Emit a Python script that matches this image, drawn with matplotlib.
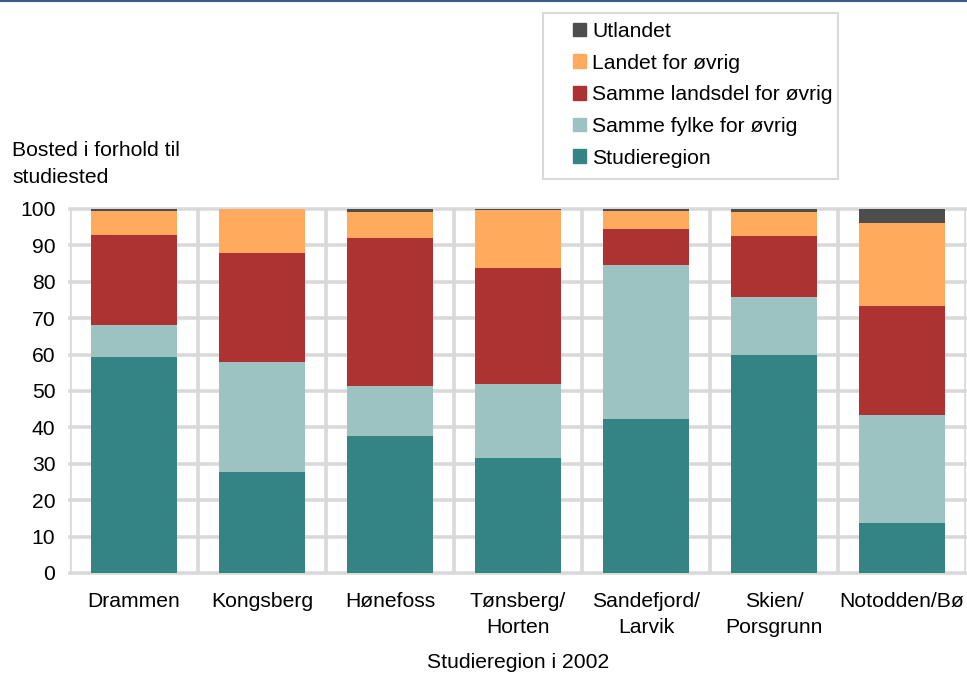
import matplotlib
matplotlib.use("Agg")
from matplotlib import pyplot as plt
from matplotlib.patches import Patch, Rectangle
import numpy as np

plt.rcParams['font.family'] = ['Liberation Sans', 'DejaVu Sans']

# data (andel i prosent)
regions = ['Drammen', 'Kongsberg', 'Hønefoss', 'Tønsberg/\nHorten',
           'Sandefjord/\nLarvik', 'Skien/\nPorsgrunn', 'Notodden/Bø']
studieregion = [59.3, 27.7, 37.7, 31.6, 42.4, 59.9, 13.8]
samme_fylke = [8.9, 30.3, 13.8, 20.4, 42.3, 15.9, 29.7]
samme_landsdel = [24.6, 29.9, 40.5, 31.9, 9.8, 16.9, 29.8]
landet = [6.6, 12.1, 7.3, 15.7, 5.0, 6.6, 22.9]
utlandet = [0.6, 0.0, 0.7, 0.4, 0.5, 0.7, 3.8]

series = [
    ('Studieregion', studieregion, '#348484'),
    ('Samme fylke for øvrig', samme_fylke, '#9CC2C2'),
    ('Samme landsdel for øvrig', samme_landsdel, '#AD3232'),
    ('Landet for øvrig', landet, '#FFAA5C'),
    ('Utlandet', utlandet, '#4D4D4D'),
]

FS = 15.2

fig = plt.figure(figsize=(9.67, 6.73), dpi=100)
ax = fig.add_axes([70 / 967, 1 - 573 / 673, 896 / 967, 364 / 673])

x = np.arange(len(regions))
bottom = np.zeros(len(regions))
for name, vals, col in series:
    ax.bar(x, vals, width=0.67, bottom=bottom, color=col, zorder=3)
    bottom += np.array(vals)

ax.set_xlim(-0.5, len(regions) - 0.5)
ax.set_ylim(0, 100)
ax.set_yticks(range(0, 101, 10))
ax.set_xticks(x)
ax.set_xticklabels(regions, fontsize=FS, linespacing=1.47)
ax.set_xticks(np.arange(-0.5, len(regions), 1), minor=True)
ax.tick_params(axis='both', which='both', length=0, labelsize=FS)
ax.tick_params(axis='x', pad=13.5)
ax.tick_params(axis='y', pad=10.5)

ax.grid(axis='y', which='major', color='#D9D9D9', linewidth=2.6, zorder=0)
ax.grid(axis='x', which='minor', color='#D9D9D9', linewidth=2.6, zorder=0)
for gl in ax.get_ygridlines():
    gl.set_clip_on(False)
for s in ax.spines.values():
    s.set_visible(False)

fig.text(12 / 967, 1 - 141 / 673, 'Bosted i forhold til\nstudiested',
         fontsize=FS, va='top', ha='left', linespacing=1.52)
fig.text(518 / 967, 1 - 663 / 673, 'Studieregion i 2002',
         fontsize=FS, va='center', ha='center')

# legend box drawn separately, entries in reversed order
fig.add_artist(Rectangle((543 / 967, 1 - 179 / 673), 295 / 967, 166 / 673,
                         transform=fig.transFigure, facecolor='white',
                         edgecolor='#D9D9D9', linewidth=1.5, zorder=1))
handles = [Patch(color=col, label=name) for name, vals, col in series][::-1]
leg = fig.legend(handles=handles, loc='upper left',
                 bbox_to_anchor=(573 / 967, 1 - 22 / 673),
                 fontsize=FS, frameon=False,
                 handlelength=0.62, handleheight=0.62, handletextpad=0.3,
                 labelspacing=0.6, borderpad=0, borderaxespad=0)
leg.set_zorder(2)

# top border line
fig.add_artist(plt.Line2D([0, 1], [0.999, 0.999], color='#3A5A8C',
                          linewidth=1.5, transform=fig.transFigure))

fig.savefig('out.png', dpi=100)
